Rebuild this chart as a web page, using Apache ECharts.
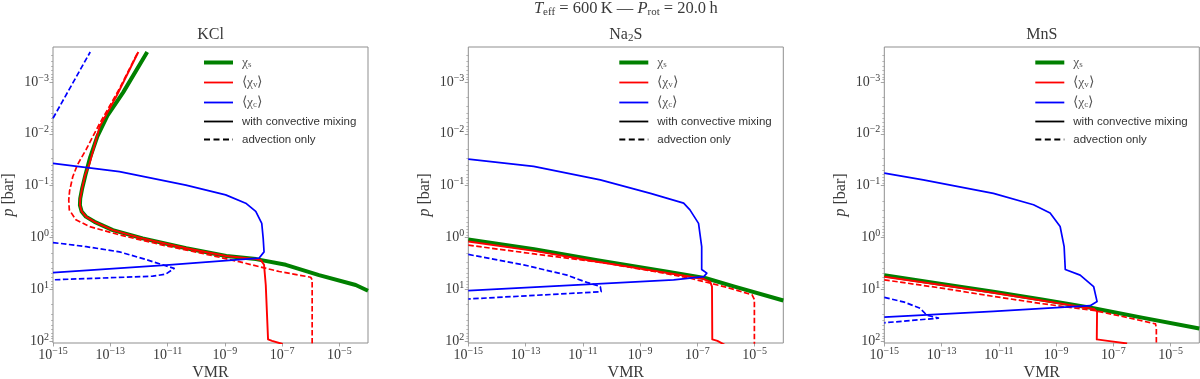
<!DOCTYPE html>
<html>
<head>
<meta charset="utf-8">
<title>VMR profiles</title>
<script src="https://cdn.jsdelivr.net/npm/echarts@6/dist/echarts.min.js"></script>
<style>
  html, body { margin: 0; padding: 0; background: #fff; }
  #chartContainer { width: 1200px; height: 379px; }
</style>
</head>
<body>
<div id="chartContainer"></div>
<script>
// all values are log10: [log10 VMR, log10 p/bar]
const panelTitles = ['KCl', 'Na{sb|2}S', 'MnS'];
const vmrTickExps = [-15, -13, -11, -9, -7, -5];
const pTickExps = [-3, -2, -1, 0, 1, 2];

// KCl
const kclSat = [[-11.71, -3.58], [-12.55, -2.8], [-13.1, -2.35], [-13.45, -1.95], [-13.7, -1.55], [-13.87, -1.2],
  [-13.98, -0.95], [-14.05, -0.75], [-14.06, -0.62], [-14.0, -0.5], [-13.85, -0.4], [-13.55, -0.30], [-12.91, -0.14],
  [-11.87, 0.02], [-10.35, 0.21], [-8.95, 0.36], [-7.91, 0.42], [-6.87, 0.53], [-5.71, 0.73], [-4.43, 0.92], [-4.0, 1.03]];
const kclVap = [[-12.02, -3.58], [-12.79, -2.72], [-13.37, -2.14], [-13.72, -1.43], [-13.88, -1.2], [-13.98, -0.95],
  [-14.05, -0.75], [-14.06, -0.62], [-14.0, -0.5], [-13.85, -0.4], [-13.55, -0.30], [-12.91, -0.14], [-11.87, 0.02],
  [-10.35, 0.21], [-8.95, 0.36], [-7.91, 0.42], [-7.74, 0.44], [-7.63, 0.53], [-7.57, 0.92], [-7.49, 1.97], [-7.35, 2.0],
  [-6.98, 2.06]];
const kclVapAdv = [[-12.06, -3.55], [-12.7, -2.85], [-13.37, -2.20], [-13.85, -1.69], [-14.15, -1.4], [-14.31, -1.17],
  [-14.42, -0.9], [-14.45, -0.72], [-14.43, -0.53], [-14.2, -0.34], [-13.73, -0.21], [-12.69, -0.05], [-11.17, 0.15],
  [-9.78, 0.31], [-8.5, 0.47], [-7.1, 0.66], [-6.0, 0.77], [-5.95, 0.82], [-5.95, 2.1]];
const kclCld = [[-15, -1.43], [-12.68, -1.27], [-10.36, -1.01], [-8.97, -0.82], [-8.27, -0.66], [-7.92, -0.50],
  [-7.71, -0.27], [-7.66, 0.02], [-7.63, 0.28], [-7.8, 0.40], [-10.94, 0.53], [-15, 0.68]];
const kclCldAdvTop = [[-15, -2.30], [-13.70, -3.58]];
const kclCldAdv = [[-15, 0.10], [-13.84, 0.18], [-12.68, 0.28], [-11.8, 0.42], [-11.17, 0.53], [-10.77, 0.60],
  [-11.06, 0.71], [-11.52, 0.75], [-15, 0.82]];

// Na2S
const na2sSat = [[-15, 0.04], [-12.7, 0.23], [-10.5, 0.44], [-8.1, 0.66], [-6.7, 0.79], [-5.7, 0.95], [-4.0, 1.22]];
const na2sVap = [[-15, 0.08], [-12.7, 0.26], [-10.5, 0.47], [-8.1, 0.68], [-6.8, 0.80], [-6.55, 0.86], [-6.49, 0.95],
  [-6.48, 1.97], [-6.3, 2.0], [-6.03, 2.08]];
const na2sVapAdv = [[-15, 0.15], [-12.7, 0.32], [-10.16, 0.50], [-8.5, 0.66], [-7.25, 0.79], [-6.0, 0.96], [-5.09, 1.11],
  [-5.01, 1.2], [-5.01, 2.1]];
const na2sCld = [[-15, -1.51], [-12.72, -1.37], [-10.39, -1.11], [-8.64, -0.85], [-7.48, -0.66], [-7.26, -0.53],
  [-6.96, -0.27], [-6.85, 0.18], [-6.85, 0.62], [-6.67, 0.69], [-6.78, 0.76], [-7.83, 0.82], [-15, 1.03]];
const na2sCldAdv = [[-15, 0.33], [-13.07, 0.53], [-11.55, 0.73], [-10.86, 0.87], [-10.39, 0.95], [-10.36, 1.05], [-15, 1.19]];

// MnS
const mnsSat = [[-15, 0.73], [-13, 0.90], [-11.19, 1.05], [-9.5, 1.20], [-7.69, 1.37], [-6, 1.55], [-4.0, 1.76]];
const mnsVap = [[-15, 0.76], [-13, 0.92], [-11.19, 1.07], [-9.5, 1.22], [-7.69, 1.38], [-7.57, 1.43], [-7.58, 1.97],
  [-7.2, 2.0], [-6.52, 2.05]];
const mnsVapAdv = [[-15, 0.82], [-13, 0.98], [-11.19, 1.14], [-9.5, 1.28], [-7.69, 1.41], [-6.5, 1.55], [-5.53, 1.67],
  [-5.50, 1.75], [-5.50, 2.1]];
const mnsCld = [[-15, -1.24], [-13.64, -1.11], [-11.19, -0.85], [-9.79, -0.63], [-9.21, -0.47], [-8.86, -0.21],
  [-8.72, 0.18], [-8.68, 0.62], [-8.16, 0.73], [-7.69, 0.95], [-7.57, 1.24], [-7.81, 1.32], [-11.19, 1.43], [-15, 1.54]];
const mnsCldAdv = [[-15, 1.16], [-14.3, 1.25], [-13.75, 1.37], [-13.52, 1.50], [-13.11, 1.56], [-15, 1.65]];

const panelCurves = [
  { sat: kclSat, vap: kclVap, vapAdv: kclVapAdv, cld: kclCld, cldAdv: [kclCldAdvTop, kclCldAdv] },
  { sat: na2sSat, vap: na2sVap, vapAdv: na2sVapAdv, cld: na2sCld, cldAdv: [na2sCldAdv] },
  { sat: mnsSat, vap: mnsVap, vapAdv: mnsVapAdv, cld: mnsCld, cldAdv: [mnsCldAdv] }
];

const gridLefts = [53, 468.3, 884.3];
const plotW = 315, plotTop = 47, plotH = 296;
const xMin = -15, xMax = -4;
const yMin = -3.676, yMax = 2.04;

const textColor = '#3a3a3a';
const frameColor = '#8f8f8f';
const serif = 'Liberation Serif';
const dash = [5.5, 2.5];

// minor log ticks (2..9 in every decade)
const minorTicks = [];
for (let e = -4; e <= 2; e++) {
  for (let k = 2; k <= 9; k++) {
    const v = e + Math.log10(k);
    if (v > yMin && v < yMax) minorTicks.push(v);
  }
}

function powLabel(v) {
  return '{b|10}{s|' + (v < 0 ? '\u2212' : '') + Math.abs(v) + '}';
}

const powRich = {
  b: { fontFamily: serif, fontSize: 14, color: textColor, lineHeight: 18 },
  s: { fontFamily: serif, fontSize: 10, color: textColor, lineHeight: 10, verticalAlign: 'top' }
};

function line(name, i, data, color, width, dashed, z) {
  return {
    name: name,
    type: 'line',
    xAxisIndex: i,
    yAxisIndex: i * 2,
    data: data,
    symbol: 'none',
    showSymbol: false,
    clip: true,
    z: z,
    itemStyle: { color: color },
    lineStyle: { color: color, width: width, type: dashed ? dash : 'solid', cap: 'butt', join: 'round' },
    emphasis: { disabled: true },
    animation: false
  };
}

const grids = [], xAxes = [], yAxes = [], series = [], legends = [];
const titles = [{
  text: '{i|T}{sb|eff} = 600\u2009K \u2014 {i|P}{sb|rot} = 20.0\u2009h',
  left: gridLefts[1] + plotW / 2,
  top: 0,
  textAlign: 'center',
  padding: 0,
  textStyle: {
    fontFamily: serif, fontSize: 16.5, fontWeight: 'normal', color: textColor, lineHeight: 18,
    rich: {
      i: { fontFamily: serif, fontSize: 16.5, fontStyle: 'italic', color: textColor, lineHeight: 18 },
      sb: { fontFamily: serif, fontSize: 11, color: textColor, lineHeight: 12, verticalAlign: 'bottom' }
    }
  }
}];

const legendNames = ['\u03c7s', '\u27e8\u03c7v\u27e9', '\u27e8\u03c7c\u27e9', 'with convective mixing', 'advection only'];
const legendLabels = {
  '\u03c7s': '{m|\u03c7}{sb|s}',
  '\u27e8\u03c7v\u27e9': '{m|\u27e8\u03c7}{sb|v}{m|\u27e9}',
  '\u27e8\u03c7c\u27e9': '{m|\u27e8\u03c7}{sb|c}{m|\u27e9}'
};

for (let i = 0; i < 3; i++) {
  grids.push({
    left: gridLefts[i], top: plotTop, width: plotW, height: plotH,
    containLabel: false, outerBoundsMode: 'none',
    show: true, borderColor: frameColor, borderWidth: 1, backgroundColor: 'transparent'
  });

  xAxes.push({
    type: 'value', gridIndex: i, min: xMin, max: xMax, position: 'bottom',
    axisLine: { show: false, onZero: false },
    axisTick: { show: true, customValues: vmrTickExps, length: 3.5, lineStyle: { color: frameColor, width: 0.8 } },
    axisLabel: { customValues: vmrTickExps, formatter: powLabel, margin: 3, rich: powRich },
    splitLine: { show: false },
    name: 'VMR', nameLocation: 'middle', nameGap: 22, nameMoveOverlap: false,
    nameTextStyle: { fontFamily: serif, fontSize: 16, color: textColor }
  });

  yAxes.push({
    type: 'value', gridIndex: i, min: yMin, max: yMax, inverse: true, position: 'left',
    axisLine: { show: false, onZero: false },
    axisTick: { show: true, customValues: pTickExps, length: 3.5, lineStyle: { color: frameColor, width: 0.8 } },
    axisLabel: { customValues: pTickExps, formatter: powLabel, margin: 4, rich: powRich },
    splitLine: { show: false },
    name: '{i|p} [bar]', nameLocation: 'middle', nameGap: 36, nameRotate: 90,
    nameTextStyle: {
      fontFamily: serif, fontSize: 16, color: textColor,
      rich: { i: { fontFamily: serif, fontSize: 16, fontStyle: 'italic', color: textColor } }
    }
  });
  // minor ticks only
  yAxes.push({
    type: 'value', gridIndex: i, min: yMin, max: yMax, inverse: true, position: 'left',
    axisLine: { show: false, onZero: false },
    axisTick: { show: true, customValues: minorTicks, length: 2, lineStyle: { color: frameColor, width: 0.6 } },
    axisLabel: { show: false },
    splitLine: { show: false }
  });

  titles.push({
    text: panelTitles[i],
    left: gridLefts[i] + plotW / 2,
    top: 26,
    textAlign: 'center',
    padding: 0,
    textStyle: {
      fontFamily: serif, fontSize: 16, fontWeight: 'normal', color: textColor, lineHeight: 18,
      rich: { sb: { fontFamily: serif, fontSize: 11, color: textColor, lineHeight: 13, verticalAlign: 'bottom' } }
    }
  });

  const c = panelCurves[i];
  series.push(line(legendNames[0], i, c.sat, '#008000', 4, false, 2));
  series.push(line(legendNames[1], i, c.vap, '#ff0000', 1.9, false, 3));
  series.push(line(legendNames[1], i, c.vapAdv, '#ff0000', 1.7, true, 3));
  series.push(line(legendNames[2], i, c.cld, '#0000ff', 1.7, false, 4));
  c.cldAdv.forEach(d => series.push(line(legendNames[2], i, d, '#0000ff', 1.7, true, 4)));

  legends.push({
    orient: 'vertical',
    left: gridLefts[i] + 149,
    top: 55.5,
    padding: 0,
    itemWidth: 29,
    itemHeight: 14,
    itemGap: 6,
    selectedMode: false,
    itemStyle: { opacity: 0 },
    data: [
      { name: legendNames[0], itemStyle: { opacity: 0 }, lineStyle: { width: 4, color: '#008000' } },
      { name: legendNames[1], itemStyle: { opacity: 0 }, lineStyle: { width: 1.8, color: '#ff0000' } },
      { name: legendNames[2], itemStyle: { opacity: 0 }, lineStyle: { width: 1.8, color: '#0000ff' } },
      { name: legendNames[3], itemStyle: { opacity: 0 }, lineStyle: { width: 1.8, color: '#000' } },
      { name: legendNames[4], itemStyle: { opacity: 0 }, lineStyle: { width: 1.8, color: '#000', type: [6, 3.5] } }
    ],
    formatter: name => legendLabels[name] || name,
    textStyle: {
      fontFamily: 'Liberation Sans', fontSize: 11.5, color: '#333', padding: [0, 0, 0, 4],
      rich: {
        m: { fontFamily: serif, fontSize: 13.5, color: '#555' },
        sb: { fontFamily: serif, fontSize: 9, color: '#555', verticalAlign: 'bottom', lineHeight: 12 }
      }
    }
  });
}

// dummy series, only for the line-style legend entries
series.push({ name: legendNames[3], type: 'line', xAxisIndex: 0, yAxisIndex: 0, data: [], symbol: 'none',
  itemStyle: { color: '#000' }, lineStyle: { color: '#000', width: 1.8 } });
series.push({ name: legendNames[4], type: 'line', xAxisIndex: 0, yAxisIndex: 0, data: [], symbol: 'none',
  itemStyle: { color: '#000' }, lineStyle: { color: '#000', width: 1.8, type: [6, 3.5] } });

const chart = echarts.init(document.getElementById('chartContainer'), null, { renderer: 'canvas' });
chart.setOption({
  backgroundColor: '#fff',
  animation: false,
  title: titles,
  legend: legends,
  grid: grids,
  xAxis: xAxes,
  yAxis: yAxes,
  series: series
});
</script>
</body>
</html>
